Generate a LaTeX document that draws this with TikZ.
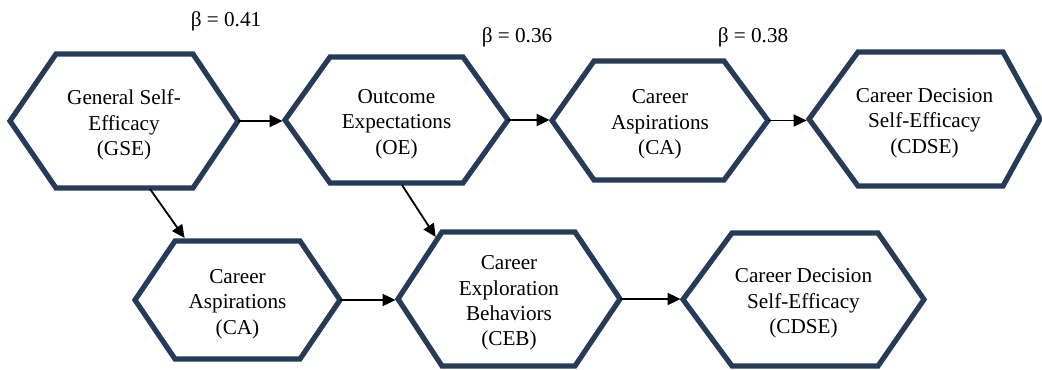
\documentclass[tikz,border=0pt]{standalone}
\usepackage{fontspec}
\setmainfont{Liberation Serif}
\usetikzlibrary{arrows.meta}
\definecolor{hexblue}{HTML}{253B58}
\tikzset{
  hexline/.style={draw=hexblue, line width=2.6pt, line join=miter},
  hextext/.style={align=center, font=\fontsize{10.6pt}{12.7pt}\selectfont, inner sep=0pt},
  betatext/.style={font=\fontsize{10.6pt}{12.7pt}\selectfont, inner sep=0pt},
  conn/.style={draw=black, line width=0.9pt, -{Triangle[length=6.5pt,width=6pt]}, shorten >=1.2pt}
}
% #1 name, #2 left x, #3 top-left x, #4 top-right x, #5 right x, #6 top y, #7 bottom y, #8 text
\newcommand\hexnode[8]{%
  \draw[hexline] (#2,{(#6+#7)/2}) -- (#3,#6) -- (#4,#6) -- (#5,{(#6+#7)/2}) -- (#4,#7) -- (#3,#7) -- cycle;
  \coordinate (#1-w) at (#2,{(#6+#7)/2});
  \coordinate (#1-e) at (#5,{(#6+#7)/2});
  \node[hextext] (#1) at ({(#2+#5)/2},{(#6+#7)/2+4}) {#8};
}
\begin{document}
\begin{tikzpicture}[x=0.5pt,y=-0.5pt]
\useasboundingbox (0,0) rectangle (1042,369);
\fill[white] (0,0) rectangle (1042,369);

\hexnode{gse}{10}{56}{193}{238}{54}{188}{General Self-\\Efficacy\\(GSE)}
\hexnode{oe}{285}{330}{463}{508}{57}{183}{Outcome\\Expectations\\(OE)}
\hexnode{caone}{552}{594}{724}{768}{61}{180}{Career\\Aspirations\\(CA)}
\hexnode{cdseone}{809}{858}{1003}{1040}{52}{186}{Career Decision\\Self-Efficacy\\(CDSE)}
\hexnode{catwo}{135}{175}{300}{340}{241}{359}{Career\\Aspirations\\(CA)}
\hexnode{ceb}{398}{442}{575}{620}{232}{366}{Career\\Exploration\\Behaviors\\(CEB)}
\hexnode{cdsetwo}{683}{732}{878}{924}{233}{366}{Career Decision\\Self-Efficacy\\(CDSE)}

\node[betatext] (b1) at (226,21) {β = 0.41};
\node[betatext] (b2) at (517,37) {β = 0.36};
\node[betatext] (b3) at (753,37) {β = 0.38};

\coordinate (gse-s) at (150,189);
\coordinate (catwo-n) at (186,240);
\coordinate (oe-s) at (402,185);
\coordinate (ceb-n) at (437,239);

\draw[conn] (gse-e) -- (gse-e -| oe-w);
\draw[conn] (oe-e) -- (oe-e -| caone-w);
\draw[conn] (caone-e) -- (caone-e -| cdseone-w);
\draw[conn] (catwo-e) -- (catwo-e -| ceb-w);
\draw[conn] (ceb-e) -- (ceb-e -| cdsetwo-w);
\draw[conn] (gse-s) -- (catwo-n);
\draw[conn] (oe-s) -- (ceb-n);
\end{tikzpicture}
\end{document}
